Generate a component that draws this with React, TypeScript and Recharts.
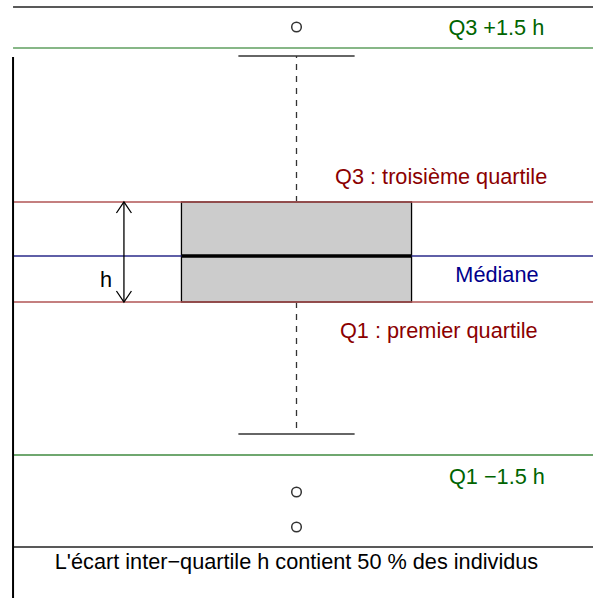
import { ComposedChart, XAxis, YAxis, ReferenceLine, ReferenceArea, Scatter } from "recharts";

// Boxplot statistics, in data units (h = Q3 - Q1 = 10)
const Q1 = 20;
const MEDIAN = 24.6;
const Q3 = 30;
const WHISKER_LOW = 6.8;
const WHISKER_HIGH = 44.6;
const FENCE_LOW = 4.7; // Q1 - 1.5 h
const FENCE_HIGH = 45.4; // Q3 + 1.5 h
const FRAME_TOP = 49.5;
const FRAME_BOTTOM = -4.5;
const AXIS_TOP = 44.5;

const outliers = [
  { x: 0, y: 47.5 },
  { x: 0, y: 1.0 },
  { x: 0, y: -2.5 },
];

const BOX_LEFT = -1.94;
const BOX_RIGHT = 1.94;
const CAP_LEFT = -0.98;
const CAP_RIGHT = 0.98;
const LINE_START = -4.78;
const LINE_END = 5;
const ARROW_X = -2.91;

const labels = [
  { x: 3.37, y: 47.5, text: "Q3 +1.5 h", color: "#006400" },
  { x: 2.44, y: 32.6, text: "Q3 : troisième quartile", color: "#8b0000" },
  { x: 3.38, y: 22.8, text: "Médiane", color: "#00008b" },
  { x: 2.4, y: 17.2, text: "Q1 : premier quartile", color: "#8b0000" },
  { x: 3.38, y: 2.6, text: "Q1 \u22121.5 h", color: "#006400" },
  { x: 0, y: -5.9, text: "L'écart inter\u2212quartile h contient 50 % des individus", color: "#000" },
  { x: -3.21, y: 22.3, text: "h", color: "#000" },
];

const FONT = "'Liberation Sans', Arial, sans-serif";

const hline = (y: number) => [
  { x: LINE_START, y },
  { x: LINE_END, y },
];

const Arrow = (p: any) => {
  const x = p.x1;
  const top = Math.min(p.y1, p.y2);
  const bot = Math.max(p.y1, p.y2);
  return (
    <g stroke="#000" strokeWidth={1.3} fill="none">
      <line x1={x} y1={top} x2={x} y2={bot} />
      <polyline points={`${x - 7.5},${top + 11} ${x},${top} ${x + 7.5},${top + 11}`} />
      <polyline points={`${x - 7.5},${bot - 11} ${x},${bot} ${x + 7.5},${bot - 11}`} />
    </g>
  );
};

const Circle = (p: any) => (
  <circle cx={p.cx} cy={p.cy} r={4.8} fill="none" stroke="#333" strokeWidth={1.5} />
);

const TextMark = (p: any) => (
  <text
    x={p.cx}
    y={p.cy}
    dy="0.358em"
    textAnchor="middle"
    fill={p.payload.color}
    fontSize={21.7}
    fontFamily={FONT}
  >
    {p.payload.text}
  </text>
);

export default function App() {
  return (
    <div style={{ position: "absolute", left: 0, top: 0, width: 593, height: 598, overflow: "hidden", background: "#fff" }}>
      <ComposedChart width={593} height={602} margin={{ top: 2, right: 0, bottom: 0, left: 0 }}>
        <XAxis type="number" dataKey="x" domain={[-5, 5]} allowDataOverflow hide />
        <YAxis type="number" dataKey="y" domain={[-10, 50]} allowDataOverflow hide />

        <ReferenceArea x1={BOX_LEFT} x2={BOX_RIGHT} y1={Q1} y2={Q3} fill="#cccccc" fillOpacity={1} stroke="#000" strokeWidth={1.3} ifOverflow="visible" />

        {/* whiskers */}
        <ReferenceLine segment={[{ x: 0, y: Q3 }, { x: 0, y: WHISKER_HIGH }]} stroke="#333" strokeWidth={1.3} strokeDasharray="6 6" ifOverflow="visible" />
        <ReferenceLine segment={[{ x: 0, y: Q1 }, { x: 0, y: WHISKER_LOW }]} stroke="#333" strokeWidth={1.3} strokeDasharray="6 6" ifOverflow="visible" />
        <ReferenceLine segment={[{ x: CAP_LEFT, y: WHISKER_HIGH }, { x: CAP_RIGHT, y: WHISKER_HIGH }]} stroke="#333" strokeWidth={1.5} ifOverflow="visible" />
        <ReferenceLine segment={[{ x: CAP_LEFT, y: WHISKER_LOW }, { x: CAP_RIGHT, y: WHISKER_LOW }]} stroke="#333" strokeWidth={1.5} ifOverflow="visible" />

        {/* guide lines */}
        <ReferenceLine segment={hline(FRAME_TOP)} stroke="#222" strokeWidth={1.5} ifOverflow="visible" />
        <ReferenceLine segment={hline(FRAME_BOTTOM)} stroke="#222" strokeWidth={1.5} ifOverflow="visible" />
        <ReferenceLine segment={hline(FENCE_HIGH)} stroke="#5f9f5f" strokeWidth={1.6} ifOverflow="visible" />
        <ReferenceLine segment={hline(FENCE_LOW)} stroke="#3f8a3f" strokeWidth={1.3} ifOverflow="visible" />
        <ReferenceLine segment={hline(Q3)} stroke="#b05454" strokeWidth={1.5} ifOverflow="visible" />
        <ReferenceLine segment={hline(Q1)} stroke="#b05454" strokeWidth={1.5} ifOverflow="visible" />
        <ReferenceLine segment={hline(MEDIAN)} stroke="#2a2a8a" strokeWidth={1.3} ifOverflow="visible" />
        <ReferenceLine segment={[{ x: LINE_START, y: AXIS_TOP }, { x: LINE_START, y: -10 }]} stroke="#000" strokeWidth={2} ifOverflow="visible" />

        {/* median */}
        <ReferenceLine segment={[{ x: BOX_LEFT, y: MEDIAN }, { x: BOX_RIGHT, y: MEDIAN }]} stroke="#000" strokeWidth={3.6} ifOverflow="visible" />

        {/* h arrow */}
        <ReferenceLine segment={[{ x: ARROW_X, y: Q3 }, { x: ARROW_X, y: Q1 }]} shape={Arrow} ifOverflow="visible" />

        <Scatter data={outliers} shape={Circle} isAnimationActive={false} />
        <Scatter data={labels} shape={TextMark} isAnimationActive={false} />
      </ComposedChart>
    </div>
  );
}
